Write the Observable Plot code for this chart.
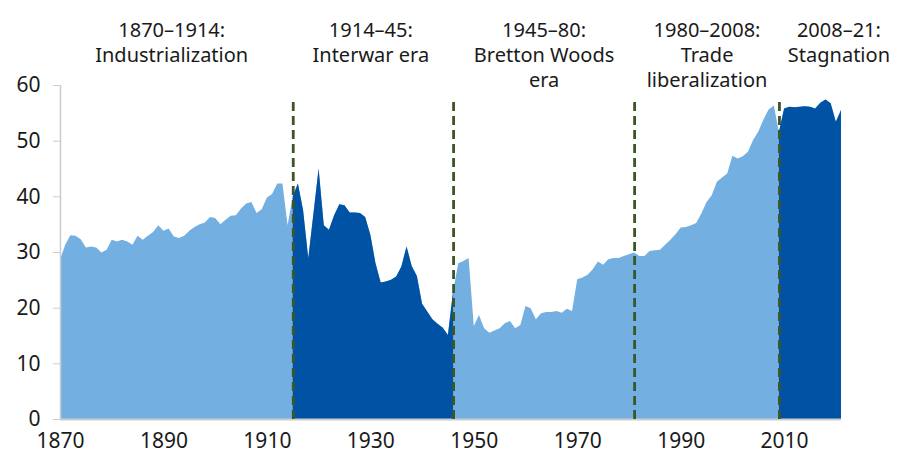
<!DOCTYPE html>
<html>
<head>
<meta charset="utf-8">
<script src="https://cdn.jsdelivr.net/npm/d3@7"></script>
<script src="https://cdn.jsdelivr.net/npm/@observablehq/plot@0.6"></script>
<style>
  html, body { margin: 0; padding: 0; background: #ffffff; }
  #chart svg { display: block; }
</style>
</head>
<body>
<div id="chart"></div>
<script>
// ---- Data ----
const startYear = 1870;
// World trade openness, % of GDP, one value per year 1870–2021
const openness = [
  28.6, 31.3, 33.0, 32.9, 32.3, 30.8, 31.0, 30.8, 29.9, 30.4, // 1870s
  32.2, 31.9, 32.2, 31.9, 31.3, 32.9, 32.2, 32.9, 33.6, 34.8, // 1880s
  33.8, 34.2, 32.8, 32.5, 32.9, 33.8, 34.5, 35.0, 35.3, 36.3, // 1890s
  36.1, 35.0, 35.8, 36.5, 36.6, 37.8, 38.7, 39.0, 37.0, 37.7, // 1900s
  39.8, 40.4, 42.3, 42.3, 34.8, 40.0, 42.3, 37.5, 28.9, 36.9, // 1910s
  45.0, 34.8, 34.0, 36.6, 38.6, 38.4, 37.1, 37.1, 37.0, 36.3, // 1920s
  33.1, 28.0, 24.5, 24.7, 25.0, 25.6, 27.4, 31.0, 27.5, 25.7, // 1930s
  20.7, 19.3, 17.9, 17.1, 16.4, 15.1, 23.0, 28.0, 28.4, 28.9, // 1940s
  16.7, 18.7, 16.3, 15.5, 15.9, 16.3, 17.2, 17.6, 16.3, 16.9, // 1950s
  20.3, 19.9, 17.9, 19.0, 19.2, 19.2, 19.4, 19.1, 19.8, 19.4, // 1960s
  25.1, 25.4, 25.9, 26.9, 28.3, 27.7, 28.7, 28.9, 28.9, 29.3, // 1970s
  29.6, 29.9, 29.3, 29.3, 30.2, 30.3, 30.4, 31.3, 32.2, 33.2, // 1980s
  34.4, 34.5, 34.8, 35.2, 36.9, 39.0, 40.2, 42.6, 43.4, 44.1, // 1990s
  47.3, 46.8, 47.2, 48.0, 50.1, 51.6, 53.8, 55.6, 56.3, 51.6, // 2000s
  55.8, 56.1, 56.0, 56.1, 56.2, 56.1, 55.8, 56.8, 57.4, 56.7, // 2010s
  53.4, 55.5                                                  // 2020s
];

// Shaded (dark) eras, as drawn on the chart
const darkPeriods = [[1915, 1946], [2009, 2021]];
// Era boundaries (dashed lines) as drawn on the chart
const breakYears = [1915, 1946, 1981, 2009];
const breakTop = 57.7;

// Era labels and where they are centred along the x axis
const periodLabels = [
  "1870–1914:\nIndustrialization",
  "1914–45:\nInterwar era",
  "1945–80:\nBretton Woods\nera",
  "1980–2008:\nTrade\nliberalization",
  "2008–21:\nStagnation"
];
const labelYears = [1891.5, 1930, 1963.5, 1995, 2020.5];

// Axis ticks
const xTicks = [1870, 1890, 1910, 1930, 1950, 1970, 1990, 2010];
const yTicks = [0, 10, 20, 30, 40, 50, 60];

// ---- Build tables ----
const data = openness.map((v, i) => ({ year: startYear + i, value: v }));
const dark = [];
darkPeriods.forEach(([a, b], k) => {
  data.filter(d => d.year >= a && d.year <= b).forEach(d => dark.push({ ...d, seg: k }));
});
const labels = periodLabels.map((t, i) => ({ text: t, x: labelYears[i] }));

const light = "#74AFE2";
const deep = "#0052A5";
const dash = "#3C5727";
const axisGray = "#cccccc";
const font = "'Noto Sans', 'Open Sans', sans-serif";

const chart = Plot.plot({
  width: 899,
  height: 455,
  marginLeft: 60,
  marginRight: 58,
  marginTop: 85,
  marginBottom: 36,
  style: { fontFamily: font, background: "#ffffff", color: "#1a1a1a" },
  x: { domain: [1870, 2021], label: null },
  y: { domain: [0, 60], label: null },
  marks: [
    Plot.areaY(data, { x: "year", y: "value", fill: light }),
    Plot.areaY(dark, { x: "year", y: "value", z: "seg", fill: deep }),
    Plot.ruleY([0], { stroke: axisGray, strokeWidth: 2 }),
    Plot.ruleX([1870], { stroke: axisGray, strokeWidth: 1.5 }),
    Plot.ruleX(breakYears, { y1: 0, y2: breakTop, stroke: dash, strokeWidth: 2.8, strokeDasharray: "9,5" }),
    Plot.axisX({ ticks: xTicks, tickFormat: d => String(d), tickSize: 0, tickPadding: 14, fontSize: 21, label: null }),
    Plot.axisY({ ticks: yTicks, tickSize: 7, tickPadding: 13, fontSize: 21, stroke: axisGray, fill: "#1a1a1a", label: null }),
    Plot.text(labels, {
      x: "x", text: "text", frameAnchor: "top", lineAnchor: "top", dy: -66,
      fontSize: 20, lineHeight: 1.25, fill: "#1a1a1a"
    })
  ]
});
document.getElementById("chart").appendChild(chart);
</script>
</body>
</html>
